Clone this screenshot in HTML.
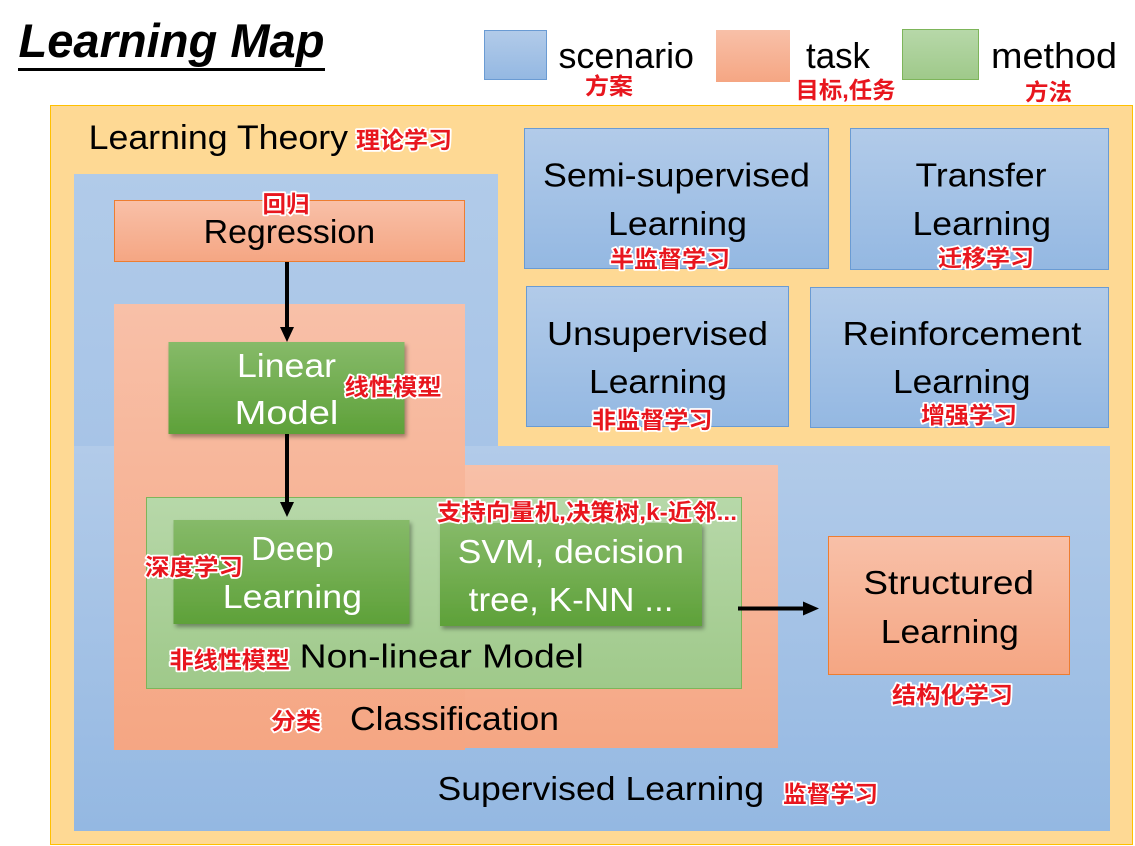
<!DOCTYPE html>
<html><head><meta charset="utf-8"><style>
html,body{margin:0;padding:0;background:#fff;}
svg{display:block;}
.en{font-family:"Liberation Sans",Arial,sans-serif;fill:#000;}
.w{fill:#fff;}
.cn{font-family:"Liberation Sans","Noto Sans CJK SC","WenQuanYi Zen Hei",sans-serif;font-weight:700;fill:#E8161E;stroke:#fff;stroke-width:3.5px;paint-order:stroke;stroke-linejoin:round;font-size:23px;}
</style></head><body>
<svg width="1135" height="846" viewBox="0 0 1135 846" xmlns="http://www.w3.org/2000/svg">
<defs>
<linearGradient id="bl" x1="0" y1="0" x2="0" y2="1"><stop offset="0" stop-color="#B2CBE9"/><stop offset="1" stop-color="#94B8E2"/></linearGradient>
<linearGradient id="bl2" x1="0" y1="0" x2="0" y2="1"><stop offset="0" stop-color="#B1CBE9"/><stop offset="1" stop-color="#A7C4E7"/></linearGradient>
<linearGradient id="sa" x1="0" y1="0" x2="0" y2="1"><stop offset="0" stop-color="#F8C0A8"/><stop offset="1" stop-color="#F5A683"/></linearGradient>
<linearGradient id="gd" x1="0" y1="0" x2="0" y2="1"><stop offset="0" stop-color="#86BA69"/><stop offset="1" stop-color="#5EA139"/></linearGradient>
<linearGradient id="gl" x1="0" y1="0" x2="0" y2="1"><stop offset="0" stop-color="#B7D8A9"/><stop offset="1" stop-color="#9FC98A"/></linearGradient>
<filter id="sh" x="-10%" y="-10%" width="125%" height="130%"><feDropShadow dx="2" dy="3" stdDeviation="2" flood-color="#000" flood-opacity="0.35"/></filter>
</defs>

<!-- Title -->
<text x="18.5" y="57" font-family="Liberation Sans, Arial, sans-serif" font-weight="700" font-style="italic" font-size="47" textLength="306" lengthAdjust="spacingAndGlyphs">Learning Map</text>
<rect x="18" y="68" width="307" height="3" fill="#000"/>

<!-- Legend -->
<rect x="484.5" y="30.5" width="62" height="49" fill="url(#bl)" stroke="#6A9BD3"/>
<text class="en" x="558.5" y="68" font-size="36" textLength="135.5" lengthAdjust="spacingAndGlyphs">scenario</text>
<text class="cn" x="585" y="94" textLength="48" lengthAdjust="spacingAndGlyphs">方案</text>
<rect x="716" y="30" width="74" height="52" fill="url(#sa)"/>
<text class="en" x="806" y="68" font-size="36" textLength="64" lengthAdjust="spacingAndGlyphs">task</text>
<text class="cn" x="795.5" y="98" textLength="100" lengthAdjust="spacingAndGlyphs">目标,任务</text>
<rect x="902.5" y="29.5" width="76" height="50" fill="url(#gl)" stroke="#7DB55A"/>
<text class="en" x="991" y="68" font-size="36" textLength="126" lengthAdjust="spacingAndGlyphs">method</text>
<text class="cn" x="1025" y="100" textLength="47" lengthAdjust="spacingAndGlyphs">方法</text>

<!-- Outer yellow -->
<rect x="50.5" y="105.5" width="1082" height="739" fill="#FED994" stroke="#FFC000"/>
<text class="en" x="88.6" y="149" font-size="34" textLength="259.4" lengthAdjust="spacingAndGlyphs">Learning Theory</text>
<text class="cn" x="356" y="148" textLength="96" lengthAdjust="spacingAndGlyphs">理论学习</text>

<!-- Supervised region -->
<rect x="74" y="174" width="424" height="272" fill="url(#bl2)"/>
<rect x="74" y="446" width="1036" height="385" fill="url(#bl)"/>

<!-- Classification region -->
<rect x="114" y="465" width="664" height="283" fill="url(#sa)"/>
<rect x="114" y="304" width="351" height="446" fill="url(#sa)"/>

<!-- Regression -->
<rect x="114.5" y="200.5" width="350" height="61" fill="url(#sa)" stroke="#ED7D31"/>
<text class="cn" x="262.5" y="212" textLength="47" lengthAdjust="spacingAndGlyphs">回归</text>
<text class="en" x="203.6" y="243" font-size="33" textLength="171.5" lengthAdjust="spacingAndGlyphs">Regression</text>

<!-- Theory boxes -->
<rect x="524.5" y="128.5" width="304" height="140" fill="url(#bl)" stroke="#6A9BD3"/>
<text class="en" x="543" y="186.5" font-size="33" textLength="267" lengthAdjust="spacingAndGlyphs">Semi-supervised</text>
<text class="en" x="608" y="235" font-size="33" textLength="139" lengthAdjust="spacingAndGlyphs">Learning</text>
<text class="cn" x="610" y="267" textLength="120" lengthAdjust="spacingAndGlyphs">半监督学习</text>

<rect x="850.5" y="128.5" width="258" height="141" fill="url(#bl)" stroke="#6A9BD3"/>
<text class="en" x="915.5" y="186.5" font-size="33" textLength="131" lengthAdjust="spacingAndGlyphs">Transfer</text>
<text class="en" x="912.5" y="235" font-size="33" textLength="138.5" lengthAdjust="spacingAndGlyphs">Learning</text>
<text class="cn" x="938" y="266" textLength="96" lengthAdjust="spacingAndGlyphs">迁移学习</text>

<rect x="526.5" y="286.5" width="262" height="140" fill="url(#bl)" stroke="#6A9BD3"/>
<text class="en" x="547" y="345" font-size="33" textLength="221" lengthAdjust="spacingAndGlyphs">Unsupervised</text>
<text class="en" x="589" y="393" font-size="33" textLength="138" lengthAdjust="spacingAndGlyphs">Learning</text>
<text class="cn" x="592" y="428" textLength="120.5" lengthAdjust="spacingAndGlyphs">非监督学习</text>

<rect x="810.5" y="287.5" width="298" height="140" fill="url(#bl)" stroke="#6A9BD3"/>
<text class="en" x="842.5" y="345" font-size="33" textLength="239" lengthAdjust="spacingAndGlyphs">Reinforcement</text>
<text class="en" x="893" y="393" font-size="33" textLength="137.5" lengthAdjust="spacingAndGlyphs">Learning</text>
<text class="cn" x="921" y="423" textLength="96" lengthAdjust="spacingAndGlyphs">增强学习</text>

<!-- Linear Model -->
<rect x="168.5" y="342" width="236" height="92" fill="url(#gd)" filter="url(#sh)"/>
<text class="en w" x="237" y="377" font-size="33" textLength="99" lengthAdjust="spacingAndGlyphs">Linear</text>
<text class="en w" x="234.6" y="424" font-size="33" textLength="103.8" lengthAdjust="spacingAndGlyphs">Model</text>
<text class="cn" x="344.6" y="395" textLength="97" lengthAdjust="spacingAndGlyphs">线性模型</text>

<!-- Non-linear model -->
<rect x="146.5" y="497.5" width="595" height="191" fill="url(#gl)" stroke="#7DB55A"/>
<rect x="173.5" y="520" width="236" height="104" fill="url(#gd)" filter="url(#sh)"/>
<text class="en w" x="251" y="560" font-size="33" textLength="82.7" lengthAdjust="spacingAndGlyphs">Deep</text>
<text class="en w" x="222.8" y="608" font-size="33" textLength="139.2" lengthAdjust="spacingAndGlyphs">Learning</text>
<text class="cn" x="145" y="575" textLength="98" lengthAdjust="spacingAndGlyphs">深度学习</text>

<rect x="440" y="523" width="262" height="103" fill="url(#gd)" filter="url(#sh)"/>
<text class="en w" x="457.8" y="563" font-size="33" textLength="226.2" lengthAdjust="spacingAndGlyphs">SVM, decision</text>
<text class="en w" x="468.7" y="611" font-size="33" textLength="204.8" lengthAdjust="spacingAndGlyphs">tree, K-NN ...</text>
<text class="cn" x="437" y="520" textLength="300" lengthAdjust="spacingAndGlyphs">支持向量机,决策树,k-近邻...</text>

<text class="cn" x="169.5" y="668" textLength="120.5" lengthAdjust="spacingAndGlyphs">非线性模型</text>
<text class="en" x="299.7" y="667.7" font-size="33" textLength="284.1" lengthAdjust="spacingAndGlyphs">Non-linear Model</text>

<text class="cn" x="271" y="729" textLength="50" lengthAdjust="spacingAndGlyphs">分类</text>
<text class="en" x="350" y="730" font-size="33" textLength="209" lengthAdjust="spacingAndGlyphs">Classification</text>

<!-- Structured Learning -->
<rect x="828.5" y="536.5" width="241" height="138" fill="url(#sa)" stroke="#ED7D31"/>
<text class="en" x="863.4" y="594" font-size="33" textLength="170.6" lengthAdjust="spacingAndGlyphs">Structured</text>
<text class="en" x="880.8" y="643" font-size="33" textLength="138" lengthAdjust="spacingAndGlyphs">Learning</text>
<text class="cn" x="892" y="703" textLength="121" lengthAdjust="spacingAndGlyphs">结构化学习</text>

<!-- Supervised label -->
<text class="en" x="437.5" y="800" font-size="33" textLength="326.5" lengthAdjust="spacingAndGlyphs">Supervised Learning</text>
<text class="cn" x="783" y="802" textLength="95" lengthAdjust="spacingAndGlyphs">监督学习</text>

<!-- Arrows -->
<rect x="285" y="262" width="4" height="67" fill="#000"/>
<polygon points="280,327 294,327 287,342" fill="#000"/>
<rect x="285" y="434" width="4" height="70" fill="#000"/>
<polygon points="280,502 294,502 287,517" fill="#000"/>
<rect x="738" y="606.5" width="67" height="4" fill="#000"/>
<polygon points="803,601.5 803,615.5 819,608.5" fill="#000"/>
</svg>
</body></html>
